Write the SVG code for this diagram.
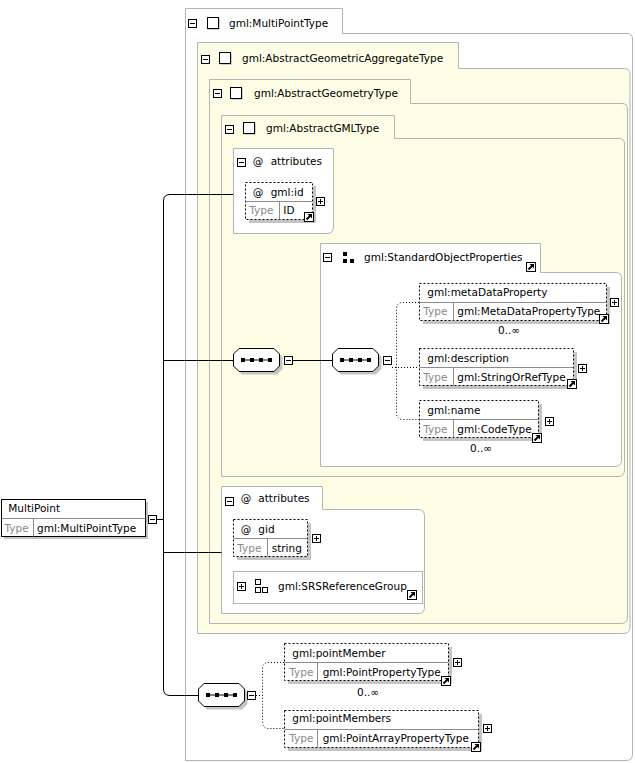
<svg xmlns="http://www.w3.org/2000/svg" xmlns:xlink="http://www.w3.org/1999/xlink" width="635" height="763" viewBox="0 0 635 763">
<style>
text{font-family:"DejaVu Sans",sans-serif;font-size:10.5px;fill:#000}
.ty{fill:#8a8a8a}
.frame{stroke:#b4b4b4;stroke-width:1}
.yel{fill:#fefee6}
.wht{fill:#ffffff}
.el{fill:#fff;stroke:#000;stroke-dasharray:2,2}
.els{fill:#fff;stroke:#000}
.sh{fill:#c4c4c4}
.div{stroke:#8c8c8c;fill:none}
.ln{stroke:#000;fill:none}
.dot{stroke:#000;fill:none;stroke-dasharray:1,2}
</style>
<defs>
<g id="minus"><rect x="0.5" y="0.5" width="8" height="8" fill="#fff" stroke="#000"/><line x1="2" y1="4.5" x2="7" y2="4.5" stroke="#000"/></g>
<g id="plus"><rect x="0.5" y="0.5" width="8" height="8" fill="#fff" stroke="#000"/><line x1="2" y1="4.5" x2="7" y2="4.5" stroke="#000"/><line x1="4.5" y1="2" x2="4.5" y2="7" stroke="#000"/></g>
<g id="link"><rect x="0.5" y="0.5" width="9" height="9" fill="#fff" stroke="#000"/><path d="M2.5,7.5 L6,4" stroke="#000" stroke-width="2"/><path d="M3.5,2 H8 V6.5 Z" fill="#000"/></g>
<g id="sq"><rect x="1.5" y="1.5" width="11" height="11" fill="#a0a0a0"/><rect x="0.5" y="0.5" width="11" height="11" fill="#fff" stroke="#000"/></g>
<g id="seq"><path d="M9,3.5 H44 L49.5,9 V21 L44,26.5 H9 L3.5,21 V9 Z" class="sh"/><path d="M6,0.5 H41 L46.5,6 V18 L41,23.5 H6 L0.5,18 V6 Z" fill="#fff" stroke="#000"/><line x1="10" y1="12" x2="38" y2="12" stroke="#000"/><rect x="8" y="10" width="4" height="4" fill="#000"/><rect x="17" y="10" width="4" height="4" fill="#000"/><rect x="26" y="10" width="4" height="4" fill="#000"/><rect x="35" y="10" width="4" height="4" fill="#000"/></g>
</defs>

<g id="MultiPointType">
<path class="frame wht" d="M185.5,8.5 H342.5 V33.5 H627 Q632.5,33.5 632.5,39 V754 Q632.5,760.5 626,760.5 H185.5 Z"/>
<use xlink:href="#minus" x="188" y="19"/><use xlink:href="#sq" x="207" y="17"/>
<text x="229" y="27">gml:MultiPointType</text>
</g>

<g id="AbstractGeometricAggregateType">
<path class="frame yel" d="M197.5,42.5 H458.5 V68.5 H624.5 Q630,68.5 630,74 V627 Q630,633.5 623.5,633.5 H197.5 Z"/>
<use xlink:href="#minus" x="201" y="55"/><use xlink:href="#sq" x="219" y="52"/>
<text x="242" y="62">gml:AbstractGeometricAggregateType</text>
</g>

<g id="AbstractGeometryType">
<path class="frame yel" d="M209.5,79.5 H410.5 V103.5 H622 Q627.5,103.5 627.5,109 V617 Q627.5,623.5 621,623.5 H209.5 Z"/>
<use xlink:href="#minus" x="213" y="89"/><use xlink:href="#sq" x="230" y="87"/>
<text x="254" y="97">gml:AbstractGeometryType</text>
</g>

<g id="AbstractGMLType">
<path class="frame yel" d="M221.5,115.5 H394.5 V138.5 H619 Q624.5,138.5 624.5,144 V470 Q624.5,476.5 618,476.5 H221.5 Z"/>
<use xlink:href="#minus" x="225" y="125"/><use xlink:href="#sq" x="243" y="122"/>
<text x="266" y="132">gml:AbstractGMLType</text>
</g>

<g id="attributes1">
<path class="frame wht" d="M233.5,148.5 H333.5 V227 Q333.5,233.5 327,233.5 H233.5 Z"/>
<use xlink:href="#minus" x="237" y="158"/>
<text x="252.7" y="165">@</text><text x="270.7" y="165">attributes</text>
</g>

<g id="gml-id">
<rect class="sh" x="249" y="186" width="67" height="37"/>
<rect class="el" x="245.5" y="182.5" width="67" height="37"/>
<path class="div" d="M245.5,201.5 H312.5 M279.5,201.5 V219.5"/>
<text x="252.7" y="196">@</text><text x="270.7" y="196">gml:id</text>
<text class="ty" x="249.3" y="214">Type</text><text x="283.3" y="214">ID</text>
<use xlink:href="#plus" x="316" y="197"/><use xlink:href="#link" x="304" y="212"/>
</g>

<g id="StandardObjectProperties">
<path class="frame wht" d="M320.5,243.5 H540.5 V272.5 H616 Q621.5,272.5 621.5,278 V460 Q621.5,466.5 615,466.5 H320.5 Z"/>
<use xlink:href="#minus" x="323" y="253"/>
<rect x="343" y="252" width="4" height="4" fill="#000"/><rect x="343" y="259" width="4" height="4" fill="#000"/><rect x="350" y="259" width="4" height="4" fill="#000"/>
<text x="364" y="260.5">gml:StandardObjectProperties</text>
<use xlink:href="#link" x="526" y="262"/>
</g>

<g id="metaDataProperty">
<rect class="sh" x="423" y="287" width="187" height="37"/>
<rect class="el" x="419.5" y="283.5" width="187" height="37"/>
<path class="div" d="M419.5,302.5 H606.5 M453.5,302.5 V320.5"/>
<text x="427.3" y="296">gml:metaDataProperty</text>
<text class="ty" x="423.3" y="315">Type</text><text x="457.3" y="315">gml:MetaDataPropertyType</text>
<use xlink:href="#plus" x="610" y="298"/><use xlink:href="#link" x="599" y="314"/>
<text x="498" y="334">0..∞</text>
</g>

<g id="description">
<rect class="sh" x="423" y="352" width="154" height="37"/>
<rect class="el" x="419.5" y="348.5" width="154" height="37"/>
<path class="div" d="M419.5,367.5 H573.5 M453.5,367.5 V385.5"/>
<text x="427.3" y="362">gml:description</text>
<text class="ty" x="423.3" y="381">Type</text><text x="457.3" y="381">gml:StringOrRefType</text>
<use xlink:href="#plus" x="578" y="364"/><use xlink:href="#link" x="567" y="379"/>
</g>

<g id="name">
<rect class="sh" x="423" y="404" width="119" height="37"/>
<rect class="el" x="419.5" y="400.5" width="119" height="37"/>
<path class="div" d="M419.5,419.5 H538.5 M453.5,419.5 V437.5"/>
<text x="427.3" y="414">gml:name</text>
<text class="ty" x="423.3" y="433">Type</text><text x="457.3" y="433">gml:CodeType</text>
<use xlink:href="#plus" x="545" y="417"/><use xlink:href="#link" x="532" y="433"/>
<text x="470" y="452">0..∞</text>
</g>

<g id="MultiPoint">
<rect class="sh" x="4" y="502" width="144" height="37"/>
<rect class="els" x="1.5" y="499.5" width="144" height="37"/>
<path class="div" d="M1.5,518.5 H145.5 M33.5,518.5 V536.5"/>
<text x="8.3" y="512.3">MultiPoint</text>
<text class="ty" x="4.5" y="531.7">Type</text><text x="37" y="531.7">gml:MultiPointType</text>
<use xlink:href="#minus" x="148" y="515"/>
</g>

<g id="attributes2">
<path class="frame wht" d="M221.5,486.5 H322.5 V509.5 H418 Q424.5,509.5 424.5,516 V607 Q424.5,613.5 418,613.5 H221.5 Z"/>
<use xlink:href="#minus" x="225" y="497"/>
<text x="240.7" y="502.3">@</text><text x="258.3" y="502.3">attributes</text>
</g>

<g id="gid">
<rect class="sh" x="237" y="523" width="74" height="37"/>
<rect class="el" x="233.5" y="519.5" width="74" height="37"/>
<path class="div" d="M233.5,538.5 H307.5 M267.5,538.5 V556.5"/>
<text x="240.7" y="533.3">@</text><text x="258.3" y="533.3">gid</text>
<text class="ty" x="237.3" y="552.3">Type</text><text x="271.7" y="552.3">string</text>
<use xlink:href="#plus" x="312" y="534"/>
</g>

<g id="SRSReferenceGroup">
<rect class="frame wht" x="233.5" y="571.5" width="189" height="32"/>
<use xlink:href="#plus" x="237" y="582"/>
<rect x="255.5" y="579.5" width="5" height="5" fill="none" stroke="#000"/><rect x="255.5" y="587.5" width="5" height="5" fill="none" stroke="#000"/><rect x="262.5" y="587.5" width="5" height="5" fill="none" stroke="#000"/>
<text x="278" y="590">gml:SRSReferenceGroup</text>
<use xlink:href="#link" x="407" y="590"/>
</g>

<g id="pointMember">
<rect class="sh" x="288" y="647" width="164" height="37"/>
<rect class="el" x="284.5" y="643.5" width="164" height="37"/>
<path class="div" d="M284.5,662.5 H448.5 M317.5,662.5 V680.5"/>
<text x="292.3" y="656.7">gml:pointMember</text>
<text class="ty" x="289.3" y="675.7">Type</text><text x="322.7" y="675.7">gml:PointPropertyType</text>
<use xlink:href="#plus" x="453" y="658"/><use xlink:href="#link" x="441" y="676"/>
<text x="357" y="695.7">0..∞</text>
</g>

<g id="pointMembers">
<rect class="sh" x="288" y="714" width="194" height="37"/>
<rect class="el" x="284.5" y="710.5" width="194" height="37"/>
<path class="div" d="M284.5,729.5 H478.5 M317.5,729.5 V747.5"/>
<text x="292.3" y="722.3">gml:pointMembers</text>
<text class="ty" x="289.3" y="741.7">Type</text><text x="322.7" y="741.7">gml:PointArrayPropertyType</text>
<use xlink:href="#plus" x="483" y="724"/><use xlink:href="#link" x="471" y="742"/>
</g>

<g id="compositors">
<use xlink:href="#seq" x="233" y="348"/><use xlink:href="#minus" x="284" y="356"/>
<use xlink:href="#seq" x="332" y="348"/><use xlink:href="#minus" x="383" y="356"/>
<use xlink:href="#seq" x="198" y="683"/><use xlink:href="#minus" x="247" y="691"/>
</g>

<g id="connectors">
<path class="ln" d="M156,519.5 H163.5 M233,194.5 H170 Q163.5,194.5 163.5,201 V689 Q163.5,695.5 170,695.5 H198 M163.5,360.5 H233 M163.5,552.5 H221.5 M293,360.5 H332"/>
<path class="dot" d="M392,367.5 H419 M419,302.5 H403 Q396.5,302.5 396.5,309 V413 Q396.5,419.5 403,419.5 H419"/>
<path class="dot" d="M256,695.5 H262.5 M284,662.5 H269 Q262.5,662.5 262.5,669 V722 Q262.5,728.5 269,728.5 H284"/>
</g>
</svg>
